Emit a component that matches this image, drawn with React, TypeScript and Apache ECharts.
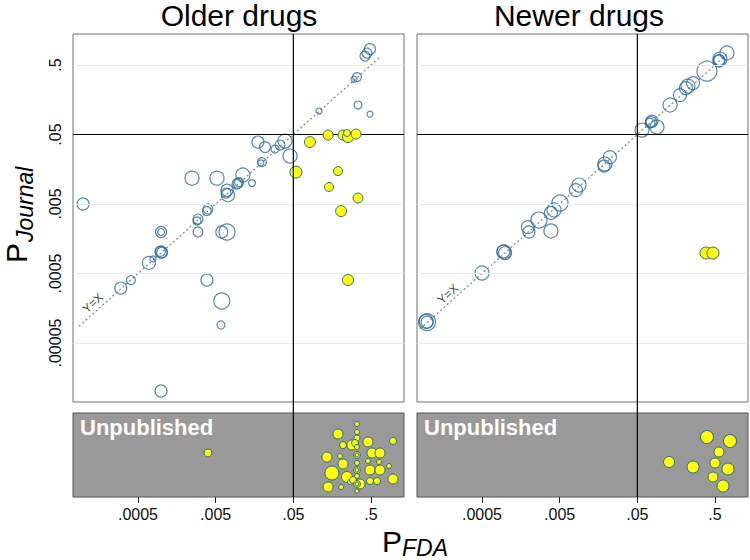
import React, { useEffect, useRef } from "react";
import * as echarts from "echarts";

const FONT = '"Liberation Sans", Arial, Helvetica, sans-serif';

const panelTitles = ["Older drugs", "Newer drugs"];
const stripLabel = "Unpublished";
const xTickValues = [0.0005, 0.005, 0.05, 0.5];
const xTickLabels = [".0005", ".005", ".05", ".5"];
const yTickValues = [0.00005, 0.0005, 0.005, 0.05, 0.5];
const yTickLabels = [".00005", ".0005", ".005", ".05", ".5"];
const significance = 0.05;
const xRange = [7.28e-5, 1.33];
const yRange = [7.08e-6, 1.4];
const diagOlder = [8.7e-5, 0.634];
const diagNewer = [8.0e-5, 0.74];
const yxLabelOlder = [1.31e-4, 1.88e-4];
const yxLabelNewer = [1.82e-4, 2.53e-4];

// [P FDA, P Journal, weight]
const olderAgree = [
  [0.485, 0.849, 30], [0.444, 0.745, 25], [0.418, 0.673, 25], [0.33, 0.336, 20],
  [0.302, 0.315, 9], [0.107, 0.109, 9], [0.34, 0.133, 16], [0.485, 0.0986, 9],
  [0.0175, 0.039, 36], [0.0216, 0.033, 30], [0.029, 0.0309, 16], [0.0337, 0.0353, 25],
  [0.039, 0.0403, 49], [0.0453, 0.0245, 49], [0.0197, 0.0201, 20], [0.0191, 0.0195, 9],
  [0.00248, 0.0118, 49], [0.0052, 0.0118, 49], [0.0112, 0.0131, 49], [0.0147, 0.01, 12],
  [0.0097, 0.01, 25], [0.0094, 0.0097, 25], [0.01, 0.0103, 20], [0.007, 0.0079, 36],
  [0.0068, 0.0072, 25], [0.0072, 0.0067, 42], [0.00398, 0.00424, 25], [0.00386, 0.00396, 20],
  [0.00296, 0.00304, 25], [0.00288, 0.00285, 16], [0.00099, 0.00198, 30], [0.00099, 0.00198, 12],
  [0.00296, 0.00198, 25], [0.006, 0.00198, 36], [0.007, 0.00198, 64], [0.00099, 0.00102, 36],
  [0.00102, 0.001, 30], [0.00097, 0.00104, 25], [0.00078, 0.00081, 9], [0.00069, 0.00071, 42],
  [0.000406, 0.000403, 20], [0.0003, 0.000309, 36], [0.00386, 0.000403, 36], [0.006, 0.000201, 64],
  [0.00585, 0.000091, 16], [0.00099, 0.0000102, 36], [0.000098, 0.005, 36],
];
const olderConflict = [
  [0.0818, 0.039, 30], [0.14, 0.0492, 25], [0.218, 0.0492, 25], [0.253, 0.046, 30],
  [0.245, 0.0526, 12], [0.321, 0.0508, 25], [0.054, 0.0144, 36], [0.188, 0.0149, 20],
  [0.144, 0.0088, 20], [0.34, 0.0061, 25], [0.206, 0.00396, 30], [0.253, 0.000403, 30],
];
// [P FDA, jitter, weight]
const olderUnpublished = [
  [0.00398, 0.524, 16], [0.33, 0.869, 6], [0.33, 0.774, 6], [0.188, 0.75, 25],
  [0.33, 0.702, 9], [0.218, 0.619, 12], [0.284, 0.619, 25], [0.311, 0.643, 12],
  [0.33, 0.595, 6], [0.457, 0.655, 25], [0.96, 0.667, 12], [0.1355, 0.476, 25],
  [0.1995, 0.488, 6], [0.33, 0.5, 12], [0.33, 0.5, 4], [0.515, 0.524, 25], [0.653, 0.524, 25],
  [0.218, 0.393, 25], [0.33, 0.405, 6], [0.457, 0.429, 6], [0.634, 0.417, 6],
  [0.853, 0.369, 6], [0.33, 0.321, 12], [0.33, 0.321, 4], [0.157, 0.286, 49], [0.485, 0.321, 25],
  [0.653, 0.321, 25], [0.245, 0.238, 30], [0.33, 0.25, 6], [0.96, 0.214, 25],
  [0.14, 0.119, 25], [0.206, 0.119, 6], [0.268, 0.179, 6], [0.293, 0.202, 12],
  [0.361, 0.155, 25], [0.485, 0.19, 12], [0.597, 0.19, 12], [0.33, 0.071, 4],
  [0.33, 0.155, 12], [0.33, 0.155, 4],
];
const newerAgree = [
  [0.713, 0.745, 49], [0.579, 0.61, 49], [0.562, 0.571, 36], [0.57, 0.59, 30],
  [0.394, 0.41, 100], [0.261, 0.275, 42], [0.224, 0.249, 49], [0.211, 0.233, 42],
  [0.177, 0.185, 42], [0.132, 0.133, 49], [0.0773, 0.078, 36], [0.0728, 0.0731, 25],
  [0.075, 0.0757, 30], [0.0895, 0.0641, 49], [0.0574, 0.058, 49], [0.0222, 0.0237, 42],
  [0.0191, 0.0188, 49], [0.0186, 0.0176, 36], [0.00887, 0.00938, 49], [0.0081, 0.00794, 42],
  [0.00505, 0.00517, 64], [0.00423, 0.0041, 49], [0.00386, 0.00372, 42], [0.00271, 0.00294, 64],
  [0.00195, 0.00233, 42], [0.00201, 0.00198, 36], [0.00386, 0.00205, 49], [0.00096, 0.00102, 49],
  [0.00099, 0.000986, 42], [0.00094, 0.00104, 42], [0.0005, 0.000508, 49], [0.000098, 0.0001, 72],
  [0.000098, 0.0001, 36], [0.000096, 0.000102, 49],
];
const newerConflict = [
  [0.383, 0.000986, 36], [0.471, 0.000986, 36],
];
const newerUnpublished = [
  [0.394, 0.714, 42], [0.78, 0.667, 42], [0.562, 0.536, 25], [0.128, 0.417, 30],
  [0.261, 0.357, 36], [0.5, 0.405, 25], [0.735, 0.333, 36], [0.471, 0.238, 25],
  [0.634, 0.131, 36],
];

const t = (p: number) => Math.log10(2 * p);

const BLUE = "#2e6b9b";
const YELLOW = "#ffff00";
const YELLOW_EDGE = "#2b6a8e";

const L = [73, 417];
const W = 331;
const MAIN_TOP = 34;
const MAIN_H = 368;
const STRIP_TOP = 413;
const STRIP_H = 84;

function labelFor(values: number[], labels: string[]) {
  return (val: number) => {
    const i = values.findIndex((p) => Math.abs(t(p) - val) < 1e-6);
    return i >= 0 ? labels[i] : "";
  };
}

function buildOption() {
  const grids: any[] = [];
  const xAxes: any[] = [];
  const yAxes: any[] = [];
  const series: any[] = [];
  const panels = [
    { agree: olderAgree, conflict: olderConflict, unpub: olderUnpublished, diag: diagOlder, yx: yxLabelOlder },
    { agree: newerAgree, conflict: newerConflict, unpub: newerUnpublished, diag: diagNewer, yx: yxLabelNewer },
  ];
  const xTicks = xTickValues.map(t);
  const yTicks = yTickValues.map(t);

  panels.forEach((pn, k) => {
    const gMain = k * 2;
    const gStrip = k * 2 + 1;
    grids.push({
      left: L[k], top: MAIN_TOP, width: W, height: MAIN_H, show: true,
      borderColor: "#707070", borderWidth: 1, backgroundColor: "#ffffff", outerBoundsMode: "none",
    });
    grids.push({
      left: L[k], top: STRIP_TOP, width: W, height: STRIP_H, show: true,
      borderColor: "#555555", borderWidth: 1, backgroundColor: "#999999", outerBoundsMode: "none",
    });
    xAxes.push({
      gridIndex: gMain, type: "value", min: t(xRange[0]), max: t(xRange[1]), show: false,
    });
    xAxes.push({
      gridIndex: gStrip, type: "value", min: t(xRange[0]), max: t(xRange[1]), position: "bottom",
      axisLine: { show: false },
      axisTick: { show: true, length: 6, customValues: xTicks, lineStyle: { color: "#222", width: 1 } },
      axisLabel: {
        show: true, customValues: xTicks, formatter: labelFor(xTickValues, xTickLabels),
        fontSize: 16, color: "#111", fontFamily: FONT, margin: 9,
      },
      splitLine: { show: false },
    });
    yAxes.push({
      gridIndex: gMain, type: "value", min: t(yRange[0]), max: t(yRange[1]),
      axisLine: { show: false },
      axisTick: { show: false, customValues: yTicks },
      axisLabel: {
        show: k === 0, customValues: yTicks, formatter: labelFor(yTickValues, yTickLabels),
        rotate: 90, fontSize: 16, color: "#111", fontFamily: FONT, margin: 10,
      },
      splitLine: { show: false },
    });
    yAxes.push({ gridIndex: gStrip, type: "value", min: 0, max: 1, show: false });

    series.push({
      type: "line", xAxisIndex: gMain, yAxisIndex: gMain, silent: true,
      data: pn.diag.map((p) => [t(p), t(p)]), symbol: "none",
      lineStyle: { color: "#8c8c8c", width: 1.3, type: [2, 2.5] },
      markLine: {
        silent: true, symbol: ["none", "none"], label: { show: false },
        data: [
          ...yTickValues.map((v) => ({ yAxis: t(v), lineStyle: { color: "#e4edef", width: 1, type: "solid" } })),
          { yAxis: t(significance), lineStyle: { color: "#000", width: 1.2, type: "solid" } },
        ],
      },
      z: 1,
    });
    series.push({
      type: "scatter", xAxisIndex: gMain, yAxisIndex: gMain, silent: true,
      data: [[t(pn.yx[0]), t(pn.yx[1])]], symbolSize: 1,
      itemStyle: { color: "rgba(0,0,0,0)" },
      label: { show: true, formatter: "Y=X", position: "inside", rotate: 42, fontSize: 12, color: "#111", fontFamily: FONT },
      z: 3,
    });
    series.push({
      type: "scatter", xAxisIndex: gMain, yAxisIndex: gMain,
      data: pn.agree.map((d) => [t(d[0]), t(d[1]), d[2]]),
      symbolSize: (v: number[]) => 2 * Math.sqrt(v[2]),
      itemStyle: { color: "rgba(0,0,0,0)", borderColor: BLUE, borderWidth: 1.2 },
      z: 4,
    });
    series.push({
      type: "scatter", xAxisIndex: gMain, yAxisIndex: gMain,
      data: pn.conflict.map((d) => [t(d[0]), t(d[1]), d[2]]),
      symbolSize: (v: number[]) => 2 * Math.sqrt(v[2]),
      itemStyle: { color: YELLOW, borderColor: YELLOW_EDGE, borderWidth: 1, opacity: 1 },
      z: 5,
    });
    series.push({
      type: "scatter", xAxisIndex: gStrip, yAxisIndex: gStrip,
      data: pn.unpub.map((d) => [t(d[0]), d[1], d[2]]),
      symbolSize: (v: number[]) => 2 * Math.sqrt(v[2]),
      itemStyle: { color: YELLOW, borderColor: YELLOW_EDGE, borderWidth: 1, opacity: 1 },
      z: 5,
    });
  });

  return {
    animation: false,
    backgroundColor: "#ffffff",
    textStyle: { fontFamily: FONT },
    grid: grids,
    xAxis: xAxes,
    yAxis: yAxes,
    series,
  };
}

function txt(text: string, x: number, y: number, fontSize: number, extra: any = {}) {
  return {
    type: "text", z: 100, silent: true,
    style: {
      text, x, y, fontSize, fontFamily: FONT, fill: extra.fill || "#000",
      fontWeight: extra.fontWeight || "normal", fontStyle: extra.fontStyle || "normal",
      align: extra.align || "left", textAlign: extra.align || "left",
      verticalAlign: "middle", textVerticalAlign: "middle",
    },
  };
}

export default function App() {
  const ref = useRef<HTMLDivElement>(null);
  useEffect(() => {
    if (!ref.current) return;
    const chart = echarts.init(ref.current, null, { renderer: "svg" });
    chart.setOption(buildOption() as any);

    const elements: any[] = [];
    const centers = [239, 579];
    panelTitles.forEach((title, k) => {
      elements.push(txt(title, centers[k], 15.5, 30, { align: "center" }));
      elements.push(txt(stripLabel, L[k] + 7, STRIP_TOP + 14, 22, { fill: "#ffffff", fontWeight: "bold" }));
      const xp = chart.convertToPixel({ xAxisIndex: k * 2 } as any, t(significance)) as unknown as number;
      elements.push({
        type: "line", z: 50, silent: true,
        shape: { x1: xp, y1: MAIN_TOP, x2: xp, y2: STRIP_TOP + STRIP_H },
        style: { stroke: "#000", lineWidth: 1.2 },
      });
    });
    // y-axis title: P_Journal rotated
    elements.push({
      type: "group", x: 1.5, y: 263, rotation: Math.PI / 2, silent: true,
      children: [
        txt("P", 0, 14.5, 30),
        txt("Journal", 21, 23.5, 23, { fontStyle: "italic" }),
      ],
    });
    // x-axis title: P_FDA
    elements.push(txt("P", 382, 541.5, 30));
    elements.push(txt("FDA", 402, 547.5, 23, { fontStyle: "italic" }));

    chart.setOption({ graphic: { elements } } as any);

    return () => chart.dispose();
  }, []);

  return (
    <div
      ref={ref}
      style={{ position: "fixed", left: 0, top: 0, width: 750, height: 560, background: "#fff" }}
    />
  );
}
